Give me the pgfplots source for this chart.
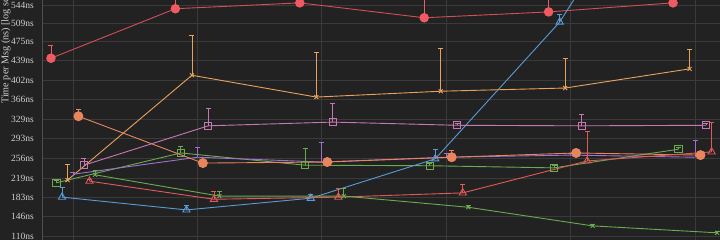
\documentclass[border=0pt]{standalone}
\usepackage{pgfplots}
\pgfplotsset{compat=1.18}
\usepackage{fontspec}
\setmainfont{Liberation Serif}
\definecolor{bgc}{HTML}{222222}
\definecolor{gridc}{HTML}{3A3A3A}
\definecolor{axc}{HTML}{505050}
\definecolor{txtc}{HTML}{CFCFCF}
\definecolor{cRed}{HTML}{F05A62}
\definecolor{cGreen}{HTML}{6AAA50}
\definecolor{cBlue}{HTML}{5B9BD5}
\definecolor{cOrange}{HTML}{E9A15C}
\definecolor{cViolet}{HTML}{A070CF}
\definecolor{cCoral}{HTML}{E8845E}
\definecolor{cPurple}{HTML}{C678B5}
\definecolor{cRedT}{HTML}{E05A5A}
\begin{document}
\begin{tikzpicture}[x=1pt,y=1pt]
\useasboundingbox (0,0) rectangle (720,240);
\fill[bgc] (0,0) rectangle (720,240);
\begin{scope}
\clip (0,0) rectangle (720,240);
\begin{axis}[
  at={(42pt,-1.32pt)}, anchor=south west, scale only axis,
  width=688pt, height=250.16pt,
  xmin=-0.249, xmax=5.281, ymin=100, ymax=570,
  xtick={0,1,2,3,4,5}, xticklabels={},
  ytick={110,146,183,219,256,293,329,366,402,439,475,509,544},
  yticklabels={110ns,146ns,183ns,219ns,256ns,293ns,329ns,366ns,402ns,439ns,475ns,509ns,544ns},
  yticklabel style={font=\fontsize{9.5}{10}\selectfont, text=txtc, inner sep=0pt, xshift=-8pt},
  /pgf/number format/assume math mode=true,
  major tick length=0pt,
  grid=major, major grid style={gridc, line width=0.8pt},
  axis line style={axc, line width=0.8pt},
  every axis plot/.append style={line width=0.9pt},
  error bars/y dir=plus, error bars/y explicit,
  error bars/error bar style={line width=0.8pt},
  error bars/error mark options={rotate=90, mark size=2.5pt, line width=0.8pt},
]
% red circles
\addplot[cRed!88!black, mark=*, mark size=4.3pt, mark options={fill=cRed, draw=cRed},
  error bars/error bar style={cRed}, error bars/error mark options={cRed, rotate=90, mark size=2.5pt}]
  coordinates {(-0.177,444) +- (0,25) (0.823,537) +- (0,30) (1.823,548) +- (0,20) (2.823,520) +- (0,40) (3.823,531) +- (0,30) (4.823,548) +- (0,20)};
% green squares
\addplot[cGreen, mark=square, mark size=3.6pt, mark options={solid}]
  coordinates {(-0.133,210) +- (0,4) (0.867,266) +- (0,13) (1.867,243) +- (0,32) (2.867,242) +- (0,4) (3.867,238) +- (0,4) (4.867,273) +- (0,4)};
% blue triangles
\addplot[cBlue, mark=triangle, mark size=4.2pt]
  coordinates {(-0.088,183) +- (0,19) (0.912,159) +- (0,9) (1.912,181) +- (0,8) (2.912,255) +- (0,17) (3.912,512) +- (0,15) (4.912,880) +- (0,20)};
% orange x
\addplot[cOrange, mark=x, mark size=2.8pt]
  coordinates {(-0.044,215) +- (0,30) (0.956,412) +- (0,75) (1.956,371) +- (0,84) (2.956,382) +- (0,81) (3.956,388) +- (0,56) (4.956,424) +- (0,37)};
% violet
\addplot[cViolet, mark=none]
  coordinates {(0,226) +- (0,3) (1,258) +- (0,19) (2,249) +- (0,36) (3,258) +- (0,8) (4,262) +- (0,3) (5,258) +- (0,32)};
% coral circles
\addplot[cCoral, mark=*, mark size=4.5pt, mark options={fill=cCoral, draw=cCoral}]
  coordinates {(0.044,335) +- (0,13) (1.044,247) +- (0,0) (2.044,249) +- (0,0) (3.044,258) +- (0,13) (4.044,266) +- (0,0) (5.044,262) +- (0,0)};
% purple squares
\addplot[cPurple, mark=square, mark size=3.6pt]
  coordinates {(0.088,243) +- (0,13) (1.088,317) +- (0,32) (2.088,324) +- (0,36) (3.088,318) +- (0,4) (4.088,317) +- (0,22) (5.088,318) +- (0,3)};
% red triangles
\addplot[cRedT, mark=triangle, mark size=4.2pt]
  coordinates {(0.133,213) +- (0,3) (1.133,179) +- (0,15) (2.133,183) +- (0,17) (3.133,191) +- (0,15) (4.133,251) +- (0,56) (5.133,268) +- (0,56)};
% green x
\addplot[cGreen, mark=x, mark size=2.8pt]
  coordinates {(0.177,225) +- (0,9) (1.177,185) +- (0,8) (2.177,185) +- (0,15) (3.177,164) +- (0,3) (4.177,129) +- (0,3) (5.177,116) +- (0,3)};
\end{axis}
\node[rotate=90, anchor=west, inner sep=0pt, text=txtc, font=\fontsize{10.2}{12}\selectfont] at (6,136) {Time per Msg (ns) [log scale]};
\end{scope}
\end{tikzpicture}
\end{document}
